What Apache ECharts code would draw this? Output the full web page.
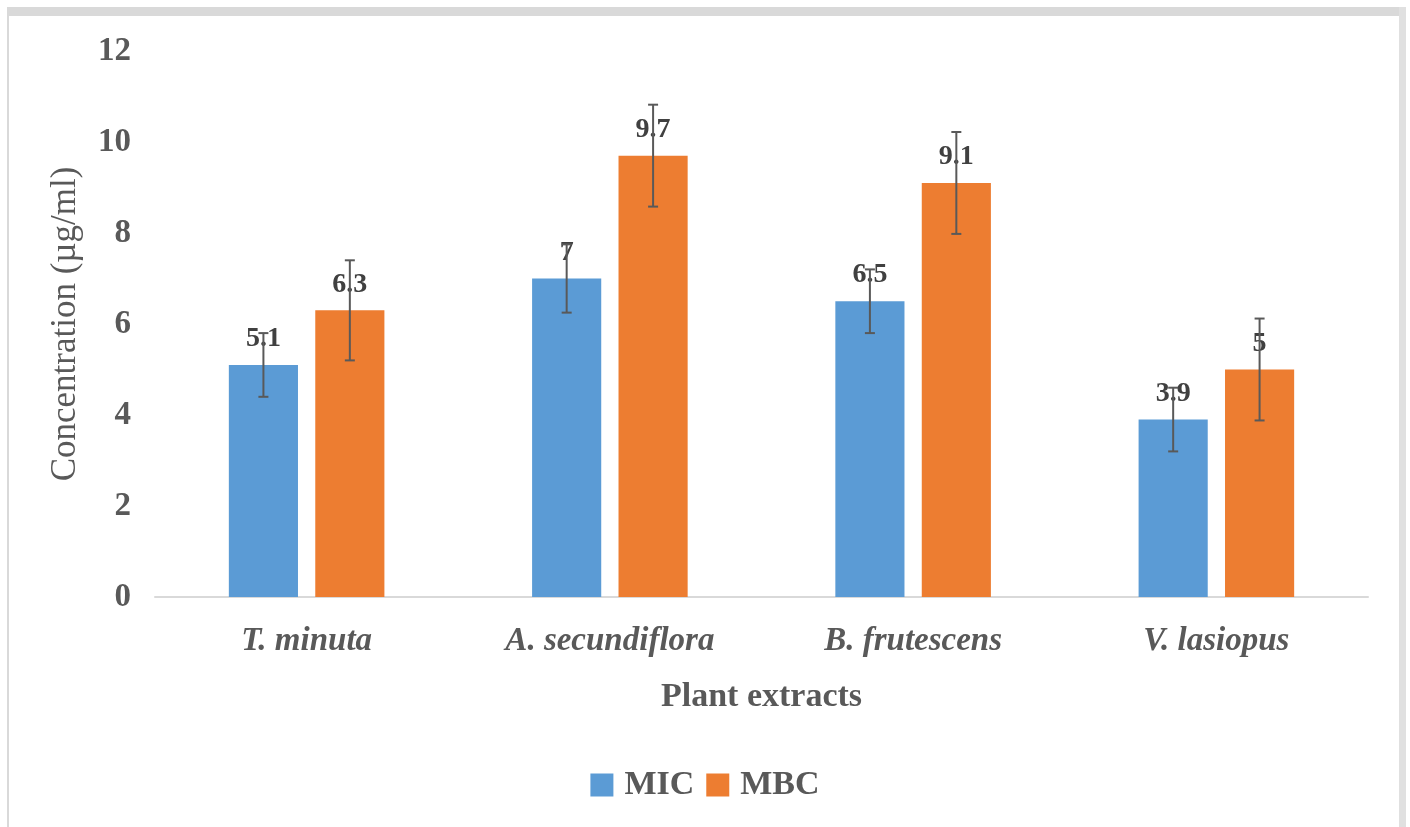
<!DOCTYPE html>
<html>
<head>
<meta charset="utf-8">
<script src="https://cdn.jsdelivr.net/npm/echarts@6/dist/echarts.min.js"></script>
<style>
html,body{margin:0;padding:0;background:#fff;}
#c{width:1410px;height:827px;}
</style>
</head>
<body>
<div id="c"></div>
<script>
var categories = ['T. minuta', 'A. secundiflora', 'B. frutescens', 'V. lasiopus'];
var micValues = [5.1, 7, 6.5, 3.9];
var mbcValues = [6.3, 9.7, 9.1, 5];
var micErrors = [0.7, 0.75, 0.7, 0.7];
var mbcErrors = [1.1, 1.12, 1.12, 1.12];
var seriesNames = ['MIC', 'MBC'];

var FONT = '"Liberation Serif", "Times New Roman", serif';
var BAR_W = 0.228;
var BAR_GAP = 0.25;

function errData(vals, errs) {
  return vals.map(function (v, i) { return [i, v, errs[i]]; });
}

function makeErrRender(side) {
  return function (params, api) {
    var idx = api.value(0);
    var v = api.value(1);
    var e = api.value(2);
    var band = api.size([1, 0])[0];
    var bw = band * BAR_W;
    var off = side * (bw + bw * BAR_GAP) / 2;
    var hi = api.coord([idx, v + e]);
    var lo = api.coord([idx, v - e]);
    var x = hi[0] + off;
    var cap = 5;
    var style = { stroke: '#595959', lineWidth: 2 };
    return {
      type: 'group',
      children: [
        { type: 'line', shape: { x1: x, y1: hi[1], x2: x, y2: lo[1] }, style: style },
        { type: 'line', shape: { x1: x - cap, y1: hi[1], x2: x + cap, y2: hi[1] }, style: style },
        { type: 'line', shape: { x1: x - cap, y1: lo[1], x2: x + cap, y2: lo[1] }, style: style }
      ]
    };
  };
}

var chart = echarts.init(document.getElementById('c'));
var labelCfg = {
  show: true, position: 'top', distance: 12,
  fontFamily: FONT, fontWeight: 'bold', fontSize: 28, color: '#404040'
};
chart.setOption({
  animation: false,
  backgroundColor: '#fff',
  graphic: [
    { type: 'rect', shape: { x: 7, y: 7, width: 1399, height: 9 }, style: { fill: '#d9d9d9' } },
    { type: 'rect', shape: { x: 7, y: 7, width: 2, height: 820 }, style: { fill: '#d9d9d9' } },
    { type: 'rect', shape: { x: 1399, y: 7, width: 7, height: 820 }, style: { fill: '#e0e0e0' } }
  ],
  grid: { left: 155, right: 42, top: 51, bottom: 230, containLabel: false },
  legend: {
    data: seriesNames,
    bottom: 20,
    left: 'center',
    itemWidth: 23, itemHeight: 23, itemGap: 12,
    icon: 'rect',
    textStyle: { fontFamily: FONT, fontWeight: 'bold', fontSize: 34, color: '#595959', padding: [0, 0, 0, 6] }
  },
  xAxis: {
    type: 'category',
    data: categories,
    name: 'Plant extracts',
    nameLocation: 'middle',
    nameGap: 83,
    nameTextStyle: { fontFamily: FONT, fontWeight: 'bold', fontSize: 34, color: '#595959' },
    axisLine: { lineStyle: { color: '#d9d9d9', width: 2 } },
    axisTick: { show: false },
    axisLabel: { margin: 28, fontFamily: FONT, fontWeight: 'bold', fontStyle: 'italic', fontSize: 33, color: '#595959' }
  },
  yAxis: {
    type: 'value',
    min: 0, max: 12, interval: 2,
    name: 'Concentration (µg/ml)',
    nameLocation: 'middle',
    nameGap: 72,
    nameTextStyle: { fontFamily: FONT, fontSize: 35, color: '#595959' },
    axisLine: { show: false },
    axisTick: { show: false },
    splitLine: { show: false },
    axisLabel: { margin: 24, fontFamily: FONT, fontWeight: 'bold', fontSize: 33, color: '#595959' }
  },
  series: [
    {
      name: seriesNames[0], type: 'bar', data: micValues,
      barWidth: (BAR_W * 100) + '%', barGap: (BAR_GAP * 100) + '%',
      itemStyle: { color: '#5B9BD5' }, label: labelCfg, z: 2
    },
    {
      name: seriesNames[1], type: 'bar', data: mbcValues,
      barWidth: (BAR_W * 100) + '%', barGap: (BAR_GAP * 100) + '%',
      itemStyle: { color: '#ED7D31' }, label: labelCfg, z: 2
    },
    {
      type: 'custom', name: 'MIC err', data: errData(micValues, micErrors),
      renderItem: makeErrRender(-1), z: 5, silent: true,
      encode: { x: 0, y: [1] }
    },
    {
      type: 'custom', name: 'MBC err', data: errData(mbcValues, mbcErrors),
      renderItem: makeErrRender(1), z: 5, silent: true,
      encode: { x: 0, y: [1] }
    }
  ]
});
</script>
</body>
</html>
